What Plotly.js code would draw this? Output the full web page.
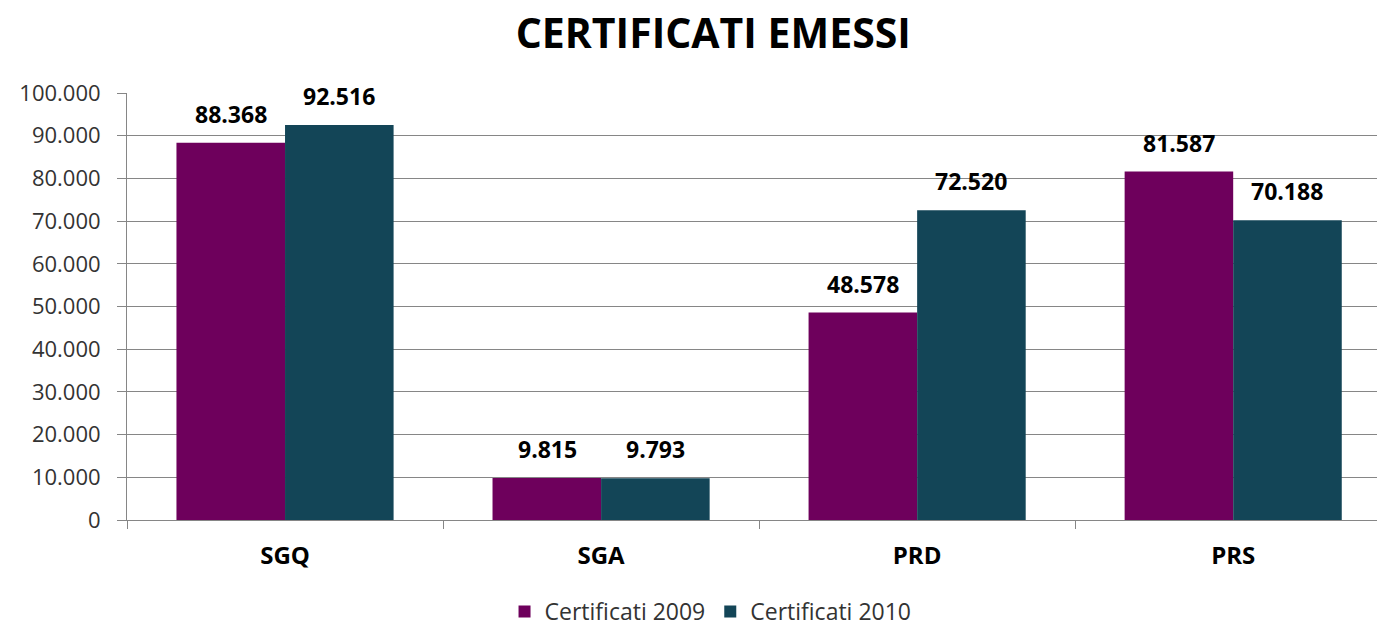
<!DOCTYPE html>
<html><head><meta charset="utf-8">
<script src="https://cdn.plot.ly/plotly-3.0.1.min.js"></script>
<style>html,body{margin:0;padding:0;background:#fff}#chart{width:1377px;height:633px}</style>
</head><body><div id="chart"></div>
<script>
var categories = ['SGQ', 'SGA', 'PRD', 'PRS'];
var cert2009 = [88368, 9815, 48578, 81587];
var cert2010 = [92516, 9793, 72520, 70188];
var seriesNames = ['Certificati 2009', 'Certificati 2010'];
var tickVals = [0, 10000, 20000, 30000, 40000, 50000, 60000, 70000, 80000, 90000, 100000];

var font = 'Open Sans, Liberation Sans, sans-serif';
function fmt(v) { return String(v).replace(/\B(?=(\d{3})+(?!\d))/g, '.'); }
function tr(name, y, color) {
  return {type: 'bar', name: name, x: categories, y: y,
    marker: {color: color}, hoverinfo: 'none'};
}
var data = [tr(seriesNames[0], cert2009, '#6e005c'), tr(seriesNames[1], cert2010, '#134557')];
var annotations = [];
[[cert2009, -54], [cert2010, 54]].forEach(function (s) {
  s[0].forEach(function (v, i) {
    annotations.push({x: categories[i], y: v, xref: 'x', yref: 'y', text: '<b>' + fmt(v) + '</b>',
      showarrow: false, xanchor: 'center', yanchor: 'bottom', xshift: s[1], yshift: 11,
      font: {family: font, size: 23, color: '#000'}});
  });
});
var layout = {
  width: 1377, height: 633,
  margin: {l: 127, r: 0, t: 93, b: 113},
  separators: ',.',
  paper_bgcolor: '#fff', plot_bgcolor: '#fff',
  title: {text: '<b>CERTIFICATI EMESSI</b>', x: 0.518, xanchor: 'center', y: 0.947, yanchor: 'middle',
    font: {family: font, size: 41, color: '#000'}},
  barmode: 'group', bargap: 0.313, bargroupgap: 0,
  annotations: annotations,
  xaxis: {range: [-0.5, 3.455], showline: true, linecolor: '#868686', linewidth: 1,
    ticks: 'outside', tickson: 'boundaries', ticklen: 8, tickcolor: '#868686', ticklabelstandoff: 14,
    tickfont: {family: font, size: 24, color: '#000', weight: 'bold'}, showgrid: false, zeroline: false},
  yaxis: {range: [0, 100000], tickvals: tickVals, tickformat: ',', showline: true, linecolor: '#868686',
    ticks: 'outside', ticklen: 9, tickcolor: '#868686', gridcolor: '#868686', gridwidth: 1, ticklabelstandoff: 12,
    tickfont: {family: font, size: 22, color: '#333'}, zeroline: false},
  showlegend: true,
  legend: {orientation: 'h', xref: 'container', yref: 'container', x: 0.516, xanchor: 'center',
    y: 0, yanchor: 'bottom', font: {family: font, size: 23, color: '#333'}, itemwidth: 30,
    traceorder: 'normal'}
};
Plotly.newPlot('chart', data, layout, {displayModeBar: false, staticPlot: true});
</script></body></html>
